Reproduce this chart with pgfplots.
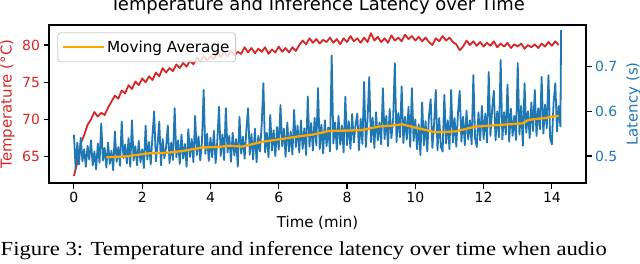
\documentclass[border=0pt]{standalone}
\usepackage{fontspec}
\setmainfont{DejaVu Sans}
\newfontfamily\timesfont{Liberation Serif}
\usepackage{graphicx}
\usepackage{pgfplots}
\usepackage{pgfplotstable}
\pgfplotsset{compat=1.18}
\definecolor{tred}{HTML}{D62728}
\definecolor{tblue}{HTML}{1F77B4}
\definecolor{torange}{HTML}{FFA500}

\pgfplotstableread{
t T
0.0 62.4
0.1 64.2
0.2 66.8
0.3 67.9
0.4 69.3
0.5 70.0
0.6 71.0
0.7 70.4
0.8 70.9
0.9 70.6
1.0 71.6
1.1 72.4
1.2 73.2
1.3 72.8
1.4 73.9
1.5 73.5
1.6 74.6
1.7 74.1
1.8 75.1
1.9 74.6
2.0 75.5
2.1 75.0
2.2 75.8
2.3 75.3
2.4 76.3
2.5 75.8
2.6 76.9
2.7 76.3
2.8 76.9
2.9 76.5
3.0 77.4
3.1 76.9
3.2 77.6
3.3 77.1
3.4 77.9
3.5 77.4
3.6 78.3
3.7 77.8
3.8 78.5
3.9 77.9
4.0 78.5
4.1 78.1
4.2 79.0
4.3 78.4
4.4 79.0
4.5 78.5
4.6 79.2
4.7 78.6
4.8 79.1
4.9 78.8
5.0 79.7
5.1 79.0
5.2 79.6
5.3 78.9
5.4 79.5
5.5 79.1
5.6 79.7
5.7 78.8
5.8 79.4
5.9 79.0
6.0 79.8
6.1 79.1
6.2 79.6
6.3 79.0
6.4 79.7
6.5 79.2
6.6 80.0
6.7 80.6
6.8 80.1
6.9 80.9
7.0 80.3
7.1 80.8
7.2 80.2
7.3 80.7
7.4 80.4
7.5 81.0
7.6 80.3
7.7 80.8
7.8 80.1
7.9 80.9
8.0 80.4
8.1 81.2
8.2 80.5
8.3 80.9
8.4 80.3
8.5 81.0
8.6 80.4
8.7 81.6
8.8 80.6
8.9 81.1
9.0 80.4
9.1 80.9
9.2 80.3
9.3 81.3
9.4 80.6
9.5 81.0
9.6 80.5
9.7 81.4
9.8 80.8
9.9 81.2
10.0 80.6
10.1 81.1
10.2 80.5
10.3 81.0
10.4 80.4
10.5 80.0
10.6 80.9
10.7 80.5
10.8 81.2
10.9 80.6
11.0 81.0
11.1 80.4
11.2 80.1
11.3 79.3
11.4 79.8
11.5 80.6
11.6 80.0
11.7 80.5
11.8 79.9
11.9 80.4
12.0 79.8
12.1 80.3
12.2 79.9
12.3 80.5
12.4 79.7
12.5 80.2
12.6 79.8
12.7 80.3
12.8 79.6
12.9 80.1
13.0 79.8
13.1 80.2
13.2 79.5
13.3 80.0
13.4 79.7
13.5 80.1
13.6 79.6
13.7 80.2
13.8 79.8
13.9 80.4
14.0 79.9
14.1 80.5
14.2 80.0
}\temptable

\pgfplotstableread{
t L
0.00 0.548
0.05 0.472
0.10 0.530
0.15 0.481
0.20 0.541
0.25 0.488
0.30 0.515
0.35 0.476
0.40 0.523
0.45 0.492
0.50 0.535
0.55 0.479
0.60 0.510
0.65 0.470
0.70 0.528
0.75 0.485
0.80 0.573
0.85 0.490
0.90 0.518
0.95 0.474
1.00 0.530
1.05 0.482
1.10 0.512
1.15 0.468
1.20 0.555
1.25 0.487
1.30 0.520
1.35 0.478
1.40 0.577
1.45 0.495
1.50 0.526
1.55 0.483
1.60 0.540
1.65 0.476
1.70 0.580
1.75 0.490
1.80 0.522
1.85 0.479
1.90 0.534
1.95 0.486
2.00 0.515
2.05 0.473
2.10 0.568
2.15 0.492
2.20 0.531
2.25 0.481
2.30 0.545
2.35 0.600
2.40 0.488
2.45 0.524
2.50 0.577
2.55 0.479
2.60 0.538
2.65 0.495
2.70 0.520
2.75 0.568
2.80 0.484
2.85 0.530
2.90 0.491
2.95 0.607
3.00 0.497
3.05 0.535
3.10 0.482
3.15 0.548
3.20 0.494
3.25 0.527
3.30 0.476
3.35 0.560
3.40 0.498
3.45 0.538
3.50 0.486
3.55 0.590
3.60 0.502
3.65 0.544
3.70 0.490
3.75 0.530
3.80 0.648
3.85 0.505
3.90 0.550
3.95 0.489
4.00 0.541
4.05 0.497
4.10 0.556
4.15 0.484
4.20 0.534
4.25 0.610
4.30 0.500
4.35 0.548
4.40 0.491
4.45 0.607
4.50 0.508
4.55 0.545
4.60 0.487
4.65 0.552
4.70 0.501
4.75 0.538
4.80 0.476
4.85 0.588
4.90 0.505
4.95 0.543
5.00 0.494
5.05 0.556
5.10 0.607
5.15 0.503
5.20 0.549
5.25 0.492
5.30 0.561
5.35 0.486
5.40 0.545
5.45 0.510
5.50 0.570
5.55 0.663
5.60 0.508
5.65 0.552
5.70 0.497
5.75 0.592
5.80 0.512
5.85 0.558
5.90 0.500
5.95 0.565
6.00 0.514
6.05 0.614
6.10 0.522
6.15 0.561
6.20 0.498
6.25 0.575
6.30 0.510
6.35 0.555
6.40 0.503
6.45 0.603
6.50 0.520
6.55 0.568
6.60 0.508
6.65 0.580
6.70 0.516
6.75 0.562
6.80 0.502
6.85 0.633
6.90 0.521
6.95 0.574
7.00 0.512
7.05 0.585
7.10 0.524
7.15 0.652
7.20 0.515
7.25 0.570
7.30 0.506
7.35 0.580
7.40 0.522
7.45 0.564
7.50 0.510
7.55 0.725
7.60 0.528
7.65 0.575
7.70 0.514
7.75 0.590
7.80 0.525
7.85 0.568
7.90 0.508
7.95 0.633
8.00 0.524
8.05 0.578
8.10 0.516
8.15 0.594
8.20 0.530
8.25 0.570
8.30 0.595
8.35 0.513
8.40 0.583
8.45 0.527
8.50 0.666
8.55 0.520
8.60 0.580
8.65 0.677
8.70 0.531
8.75 0.586
8.80 0.518
8.85 0.598
8.90 0.535
8.95 0.575
9.00 0.526
9.05 0.652
9.10 0.538
9.15 0.590
9.20 0.522
9.25 0.605
9.30 0.540
9.35 0.582
9.40 0.708
9.45 0.531
9.50 0.596
9.55 0.542
9.60 0.656
9.65 0.529
9.70 0.588
9.75 0.537
9.80 0.610
9.85 0.520
9.90 0.652
9.95 0.534
10.00 0.582
10.05 0.515
10.10 0.571
10.15 0.502
10.20 0.620
10.25 0.524
10.30 0.578
10.35 0.510
10.40 0.590
10.45 0.627
10.50 0.518
10.55 0.572
10.60 0.648
10.65 0.513
10.70 0.585
10.75 0.520
10.80 0.510
10.85 0.637
10.90 0.528
10.95 0.580
11.00 0.515
11.05 0.648
11.10 0.530
11.15 0.585
11.20 0.521
11.25 0.596
11.30 0.646
11.35 0.532
11.40 0.588
11.45 0.524
11.50 0.602
11.55 0.537
11.60 0.580
11.65 0.526
11.70 0.681
11.75 0.540
11.80 0.520
11.85 0.598
11.90 0.535
11.95 0.612
12.00 0.538
12.05 0.595
12.10 0.530
12.15 0.688
12.20 0.545
12.25 0.604
12.30 0.646
12.35 0.535
12.40 0.600
12.45 0.542
12.50 0.715
12.55 0.537
12.60 0.598
12.65 0.548
12.70 0.660
12.75 0.532
12.80 0.606
12.85 0.545
12.90 0.590
12.95 0.536
13.00 0.708
13.05 0.548
13.10 0.612
13.15 0.523
13.20 0.663
13.25 0.552
13.30 0.600
13.35 0.540
13.40 0.620
13.45 0.556
13.50 0.648
13.55 0.545
13.60 0.607
13.65 0.560
13.70 0.677
13.75 0.550
13.80 0.615
13.85 0.562
13.90 0.681
13.95 0.540
14.00 0.526
14.05 0.620
14.10 0.663
14.15 0.555
14.20 0.612
14.25 0.566
14.27 0.782
}\lattable

\pgfplotstableread{
t M
0.95 0.497
1.50 0.499
2.20 0.506
2.70 0.507
3.17 0.511
3.76 0.519
4.20 0.520
4.54 0.523
4.93 0.521
5.52 0.532
6.00 0.537
6.49 0.543
7.00 0.548
7.47 0.556
8.00 0.557
8.45 0.558
8.93 0.566
9.30 0.568
9.62 0.571
9.87 0.566
10.20 0.560
10.59 0.553
11.18 0.555
11.77 0.566
12.20 0.568
12.55 0.570
13.13 0.573
13.33 0.581
13.80 0.585
14.20 0.590
}\matable

\pgfplotsset{
  common/.style={
    scale only axis, width=537bp, height=158bp,
    at={(49bp,80bp)}, anchor=south west,
    xmin=-0.73, xmax=15.0,
    axis line style={black, line width=1.1bp},
    every tick/.style={black, line width=1.1bp},
    major tick length=5.5bp,
    tick align=outside,
    /pgf/number format/assume math mode=true,
    tick label style={font=\fontsize{14}{16}\selectfont},
  }
}

\begin{document}
\begin{tikzpicture}[x=1bp,y=1bp]
\begin{axis}[common,
  ymin=61.47, ymax=82.69,
  xtick={0,2,4,6,8,10,12,14},
  ytick={65,70,75,80},
  xtick pos=bottom, ytick pos=left,
  yticklabel style={text=tred},
  title={Temperature and Inference Latency over Time},
  title style={at={(0.5,1)}, anchor=base, yshift=9bp, font=\fontsize{18}{21}\selectfont},
  xlabel={Time (min)},
  xlabel style={at={(0.5,0)}, anchor=base, yshift=-44bp, font=\fontsize{15}{18}\selectfont},
  ylabel={Temperature (°C)},
  ylabel style={at={(-0.0698,0.5)}, anchor=base, rotate=0, font=\fontsize{15}{18}\selectfont, text=tred},
]
\addplot[tred, line width=1.8bp, line join=round] table[x=t, y=T] {\temptable};
\end{axis}
\begin{axis}[common,
  ymin=0.4395, ymax=0.7934,
  axis x line=none,
  axis y line*=right,
  ytick={0.5,0.6,0.7},
  yticklabel style={text=tblue, /pgf/number format/fixed, /pgf/number format/precision=1, /pgf/number format/fixed zerofill},
  ylabel={Latency (s)},
  ylabel style={at={(1.0959,0.5)}, anchor=base, rotate=0, font=\fontsize{15}{18}\selectfont, text=tblue},
  legend style={at={(0.0155,0.954)}, anchor=north west,
    draw=black!20, line width=0.9bp, rounded corners=3bp,
    fill=white, fill opacity=0.8, text opacity=1,
    font=\fontsize{15.3}{18}\selectfont,
    inner xsep=4bp, inner ysep=6bp},
  legend image code/.code={\draw[#1] (0bp,0bp) -- (32bp,0bp); \path (0bp,0bp) -- (41bp,0bp);},
  legend cell align=left,
]
\addplot[tblue, line width=1.8bp, line join=round, forget plot] table[x=t, y=L] {\lattable};
\addplot[torange, line width=2.3bp] table[x=t, y=M] {\matable};
\addlegendentry{Moving Average}
\end{axis}
\node[anchor=base west, inner sep=0pt] at (0.5,8) {\resizebox{606bp}{\height}{\timesfont\fontsize{20}{23}\selectfont Figure 3: Temperature and inference latency over time when audio}};
\pgfresetboundingbox
\path[use as bounding box] (0,0) rectangle (640,263);
\end{tikzpicture}
\end{document}
